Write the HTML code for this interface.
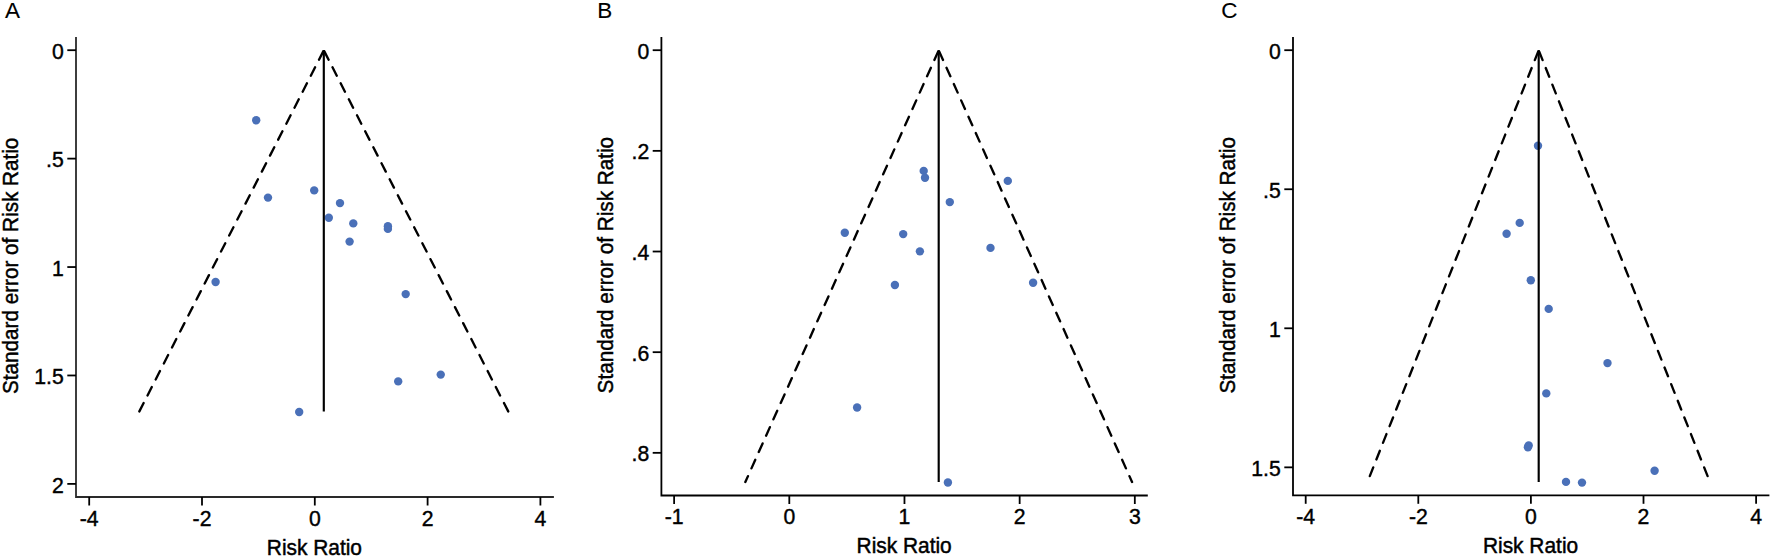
<!DOCTYPE html><html><head><meta charset="utf-8"><title>Funnel plots</title><style>
html,body{margin:0;padding:0;background:#fff;}body{width:1772px;height:557px;overflow:hidden;}svg{display:block;}
text{font-family:"Liberation Sans",Arial,sans-serif;fill:#000;stroke:#000;}
.t{font-size:21.2px;stroke-width:0.4;}.ti{font-size:20.9px;stroke-width:0.45;}.tv{font-size:20.7px;stroke-width:0.45;}.L{font-size:22.5px;stroke-width:0.1;}
.tk{stroke-width:1.8;fill:none;}
.fl{stroke:#000;stroke-width:2.15;fill:none;}.da{stroke-linecap:round;stroke-width:2.35;}
.d{fill:#4a70b8;}
</style></head><body>
<svg width="1772" height="557" viewBox="0 0 1772 557">
<rect width="1772" height="557" fill="#fff"/>
<g>
<text class="L" transform="translate(4.9 18) scale(1 0.98)">A</text>
<circle class="d" cx="256.2" cy="120.3" r="4.2"/>
<circle class="d" cx="268" cy="197.6" r="4.2"/>
<circle class="d" cx="314.2" cy="190.4" r="4.2"/>
<circle class="d" cx="340" cy="203.1" r="4.2"/>
<circle class="d" cx="328.8" cy="217.7" r="4.2"/>
<circle class="d" cx="353.3" cy="223.4" r="4.2"/>
<circle class="d" cx="387.9" cy="226.2" r="4.2"/>
<circle class="d" cx="387.9" cy="228.9" r="4.2"/>
<circle class="d" cx="349.6" cy="241.6" r="4.2"/>
<circle class="d" cx="215.6" cy="282" r="4.2"/>
<circle class="d" cx="405.7" cy="294.1" r="4.2"/>
<circle class="d" cx="440.75" cy="374.6" r="4.2"/>
<circle class="d" cx="398.2" cy="381.4" r="4.2"/>
<circle class="d" cx="299.2" cy="412" r="4.2"/>
<path class="fl da" stroke-dasharray="9.4 8.55" stroke-dashoffset="-1.18" d="M323.8 50.3L139.15 411.8"/>
<path class="fl da" stroke-dasharray="9.4 8.55" stroke-dashoffset="-1.18" d="M323.8 50.3L508.45 411.8"/>
<path class="fl" d="M323.8 50.3L323.8 411.5"/>
<path class="tk" stroke="#2a2a2a" d="M76 37L76 497L553.9 497"/>
<g stroke="#000">
<path class="tk" d="M89.2 497V505.5"/>
<path class="tk" d="M202 497V505.5"/>
<path class="tk" d="M314.8 497V505.5"/>
<path class="tk" d="M427.6 497V505.5"/>
<path class="tk" d="M540.4 497V505.5"/>
<path class="tk" d="M67.3 50.2H76"/>
<path class="tk" d="M67.3 158.62H76"/>
<path class="tk" d="M67.3 267.05H76"/>
<path class="tk" d="M67.3 375.47H76"/>
<path class="tk" d="M67.3 483.9H76"/>
</g>
<text class="t" transform="translate(89.2 526) scale(1 1.03)" text-anchor="middle">-4</text>
<text class="t" transform="translate(202 526) scale(1 1.03)" text-anchor="middle">-2</text>
<text class="t" transform="translate(314.8 526) scale(1 1.03)" text-anchor="middle">0</text>
<text class="t" transform="translate(427.6 526) scale(1 1.03)" text-anchor="middle">2</text>
<text class="t" transform="translate(540.4 526) scale(1 1.03)" text-anchor="middle">4</text>
<text class="t" transform="translate(63.8 58.8) scale(1 1.03)" text-anchor="end">0</text>
<text class="t" transform="translate(63.8 167.22) scale(1 1.03)" text-anchor="end">.5</text>
<text class="t" transform="translate(63.8 275.65) scale(1 1.03)" text-anchor="end">1</text>
<text class="t" transform="translate(63.8 384.07) scale(1 1.03)" text-anchor="end">1.5</text>
<text class="t" transform="translate(63.8 492.5) scale(1 1.03)" text-anchor="end">2</text>
<text class="ti" transform="translate(314.4 554.5) scale(1 1.04)" text-anchor="middle">Risk Ratio</text>
<text class="tv" transform="translate(17.8 265.85) rotate(-90) scale(1 1.04)" text-anchor="middle">Standard error of Risk Ratio</text>
</g>
<g>
<text class="L" transform="translate(597.35 18) scale(1 0.98)">B</text>
<circle class="d" cx="923.7" cy="170.9" r="4.2"/>
<circle class="d" cx="925" cy="177.8" r="4.2"/>
<circle class="d" cx="949.8" cy="202.1" r="4.2"/>
<circle class="d" cx="1007.8" cy="180.9" r="4.2"/>
<circle class="d" cx="990.5" cy="247.9" r="4.2"/>
<circle class="d" cx="1033.1" cy="282.75" r="4.2"/>
<circle class="d" cx="844.8" cy="232.8" r="4.2"/>
<circle class="d" cx="903.2" cy="234.1" r="4.2"/>
<circle class="d" cx="919.9" cy="251.35" r="4.2"/>
<circle class="d" cx="894.9" cy="285" r="4.2"/>
<circle class="d" cx="857.1" cy="407.5" r="4.2"/>
<circle class="d" cx="947.9" cy="482.5" r="4.2"/>
<path class="fl da" stroke-dasharray="9.4 8.5" stroke-dashoffset="-1.18" d="M938.7 50.3L745.34 482"/>
<path class="fl da" stroke-dasharray="9.4 8.5" stroke-dashoffset="-1.18" d="M938.7 50.3L1132.06 482"/>
<path class="fl" d="M938.7 50.3L938.7 481.9"/>
<path class="tk" stroke="#000" d="M661.4 37L661.4 495.5L1147.8 495.5"/>
<g stroke="#000">
<path class="tk" d="M674.12 495.5V504"/>
<path class="tk" d="M789.3 495.5V504"/>
<path class="tk" d="M904.47 495.5V504"/>
<path class="tk" d="M1019.65 495.5V504"/>
<path class="tk" d="M1134.82 495.5V504"/>
<path class="tk" d="M652.7 50.2H661.4"/>
<path class="tk" d="M652.7 150.86H661.4"/>
<path class="tk" d="M652.7 251.52H661.4"/>
<path class="tk" d="M652.7 352.18H661.4"/>
<path class="tk" d="M652.7 452.84H661.4"/>
</g>
<text class="t" transform="translate(674.12 523.8) scale(1 1.03)" text-anchor="middle">-1</text>
<text class="t" transform="translate(789.3 523.8) scale(1 1.03)" text-anchor="middle">0</text>
<text class="t" transform="translate(904.47 523.8) scale(1 1.03)" text-anchor="middle">1</text>
<text class="t" transform="translate(1019.65 523.8) scale(1 1.03)" text-anchor="middle">2</text>
<text class="t" transform="translate(1134.82 523.8) scale(1 1.03)" text-anchor="middle">3</text>
<text class="t" transform="translate(649.2 58.8) scale(1 1.03)" text-anchor="end">0</text>
<text class="t" transform="translate(649.2 159.46) scale(1 1.03)" text-anchor="end">.2</text>
<text class="t" transform="translate(649.2 260.12) scale(1 1.03)" text-anchor="end">.4</text>
<text class="t" transform="translate(649.2 360.78) scale(1 1.03)" text-anchor="end">.6</text>
<text class="t" transform="translate(649.2 461.44) scale(1 1.03)" text-anchor="end">.8</text>
<text class="ti" transform="translate(904.15 553) scale(1 1.04)" text-anchor="middle">Risk Ratio</text>
<text class="tv" transform="translate(613.3 265.2) rotate(-90) scale(1 1.04)" text-anchor="middle">Standard error of Risk Ratio</text>
</g>
<g>
<text class="L" transform="translate(1221.2 18) scale(1 0.98)">C</text>
<circle class="d" cx="1538" cy="145.7" r="4.2"/>
<circle class="d" cx="1519.7" cy="222.9" r="4.2"/>
<circle class="d" cx="1506.6" cy="233.7" r="4.2"/>
<circle class="d" cx="1530.8" cy="280.2" r="4.2"/>
<circle class="d" cx="1548.7" cy="308.9" r="4.2"/>
<circle class="d" cx="1607.5" cy="363.1" r="4.2"/>
<circle class="d" cx="1546.3" cy="393.4" r="4.2"/>
<circle class="d" cx="1528.7" cy="445.5" r="4.2"/>
<circle class="d" cx="1527.9" cy="447.3" r="4.2"/>
<circle class="d" cx="1654.6" cy="470.8" r="4.2"/>
<circle class="d" cx="1566" cy="481.9" r="4.2"/>
<circle class="d" cx="1582" cy="482.6" r="4.2"/>
<path class="fl da" stroke-dasharray="9.4 8.5" stroke-dashoffset="-1.18" d="M1538.7 50.3L1369.43 477"/>
<path class="fl da" stroke-dasharray="9.4 8.5" stroke-dashoffset="-1.18" d="M1538.7 50.3L1707.97 477"/>
<path class="fl" d="M1538.7 50.3L1538.7 481.9"/>
<path class="tk" stroke="#000" d="M1293 37L1293 495.3L1769.4 495.3"/>
<g stroke="#000">
<path class="tk" d="M1305.7 495.3V503.8"/>
<path class="tk" d="M1418.3 495.3V503.8"/>
<path class="tk" d="M1530.9 495.3V503.8"/>
<path class="tk" d="M1643.5 495.3V503.8"/>
<path class="tk" d="M1756.1 495.3V503.8"/>
<path class="tk" d="M1284.3 50.2H1293"/>
<path class="tk" d="M1284.3 189.25H1293"/>
<path class="tk" d="M1284.3 328.3H1293"/>
<path class="tk" d="M1284.3 467.35H1293"/>
</g>
<text class="t" transform="translate(1305.7 524) scale(1 1.03)" text-anchor="middle">-4</text>
<text class="t" transform="translate(1418.3 524) scale(1 1.03)" text-anchor="middle">-2</text>
<text class="t" transform="translate(1530.9 524) scale(1 1.03)" text-anchor="middle">0</text>
<text class="t" transform="translate(1643.5 524) scale(1 1.03)" text-anchor="middle">2</text>
<text class="t" transform="translate(1756.1 524) scale(1 1.03)" text-anchor="middle">4</text>
<text class="t" transform="translate(1280.8 58.8) scale(1 1.03)" text-anchor="end">0</text>
<text class="t" transform="translate(1280.8 197.85) scale(1 1.03)" text-anchor="end">.5</text>
<text class="t" transform="translate(1280.8 336.9) scale(1 1.03)" text-anchor="end">1</text>
<text class="t" transform="translate(1280.8 475.95) scale(1 1.03)" text-anchor="end">1.5</text>
<text class="ti" transform="translate(1530.55 553) scale(1 1.04)" text-anchor="middle">Risk Ratio</text>
<text class="tv" transform="translate(1234.6 265.3) rotate(-90) scale(1 1.04)" text-anchor="middle">Standard error of Risk Ratio</text>
</g>
</svg></body></html>
